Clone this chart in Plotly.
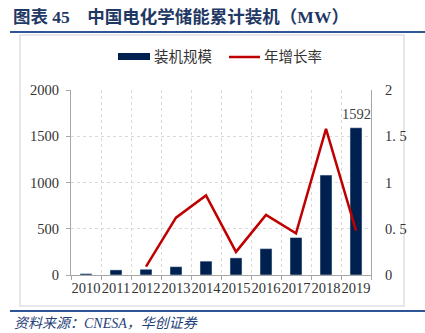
import plotly.graph_objects as go

years = ["2010", "2011", "2012", "2013", "2014", "2015", "2016", "2017", "2018", "2019"]
capacity = [15, 55, 62, 90, 150, 185, 285, 405, 1080, 1592]
growth = [None, None, 0.09, 0.62, 0.86, 0.25, 0.65, 0.45, 1.58, 0.48]
label_year = "2019"
label_value = 1592

W, H = 425, 333
L, R, T, B = 71, 371, 90, 275  # plot area in pixels

def px(x):
    return (x - L) / (R - L)

def py(y):
    return (B - y) / (B - T)

SERIF = "Liberation Serif, Noto Sans CJK SC"
NAVY = "#002050"
RED = "#C00000"
FS = 14.5

fig = go.Figure()
fig.add_trace(go.Bar(x=years, y=capacity, name="装机规模", marker_color=NAVY,
                     width=0.4, showlegend=False))
fig.add_trace(go.Scatter(x=years, y=growth, name="年增长率", mode="lines",
                         line=dict(color=RED, width=2.5), yaxis="y2", showlegend=False))

grid = "#d9d9d9"
fig.update_layout(
    width=W, height=H,
    margin=dict(l=L, r=W - R, t=T, b=H - B),
    paper_bgcolor="white", plot_bgcolor="white",
    font=dict(family=SERIF, size=12, color="#333333"),
    xaxis=dict(type="category", categoryarray=years, categoryorder="array",
               range=[-0.5, len(years) - 0.5], autorange=False,
               tickson="boundaries", showgrid=True, gridcolor=grid,
               griddash="dot", gridwidth=1, showline=True, linecolor="#a6a6a6",
               ticks="outside", ticklen=4, tickcolor="#a6a6a6", tickangle=0,
               tickfont=dict(family=SERIF, size=FS, color="#333333")),
    yaxis=dict(range=[0, 2000], tickvals=[0, 500, 1000, 1500, 2000], showgrid=True,
               gridcolor=grid, griddash="dot", showline=True, linecolor="#a6a6a6",
               ticks="outside", ticklen=4, tickcolor="#a6a6a6", zeroline=False,
               ticklabelstandoff=4,
               tickfont=dict(family=SERIF, size=FS, color="#333333")),
    yaxis2=dict(range=[0, 2], overlaying="y", side="right",
                tickvals=[0, 0.5, 1, 1.5, 2], ticktext=["0", "0. 5", "1", "1. 5", "2"],
                showgrid=False, showline=True, linecolor="#a6a6a6", zeroline=False,
                ticks="", ticklabelstandoff=10,
                tickfont=dict(family=SERIF, size=FS, color="#333333")),
)

shapes = []
shapes.append(dict(type="rect", xref="paper", yref="paper",
                   x0=px(20), x1=px(404), y0=py(306), y1=py(35),
                   line=dict(color="#e0e0e0", width=1.5), fillcolor="rgba(0,0,0,0)", layer="below"))
shapes.append(dict(type="line", xref="paper", yref="paper", x0=px(10), x1=px(425),
                   y0=py(32), y1=py(32), line=dict(color="#2E5597", width=2)))
shapes.append(dict(type="line", xref="paper", yref="paper", x0=px(10), x1=px(425),
                   y0=py(311), y1=py(311), line=dict(color="#2E5597", width=2)))
shapes.append(dict(type="rect", xref="paper", yref="paper", x0=px(118), x1=px(150),
                   y0=py(60), y1=py(53), fillcolor=NAVY, line=dict(width=0)))
shapes.append(dict(type="line", xref="paper", yref="paper", x0=px(229), x1=px(260),
                   y0=py(57), y1=py(57), line=dict(color=RED, width=2.5)))
fig.update_layout(shapes=shapes)

ann = []
ann.append(dict(text="<b>图表 45&nbsp;&nbsp;&nbsp;&nbsp;中国电化学储能累计装机（MW）</b>", xref="paper", yref="paper",
                x=px(11), y=py(17), xanchor="left", yanchor="middle", showarrow=False,
                font=dict(family=SERIF, size=17.5, color="#1F3864")))
ann.append(dict(text="装机规模", xref="paper", yref="paper", x=px(152), y=py(57),
                xanchor="left", yanchor="middle", showarrow=False,
                font=dict(family=SERIF, size=FS, color="#333333")))
ann.append(dict(text="年增长率", xref="paper", yref="paper", x=px(262), y=py(57),
                xanchor="left", yanchor="middle", showarrow=False,
                font=dict(family=SERIF, size=FS, color="#333333")))
ann.append(dict(text=str(label_value), x=years.index(label_year), y=label_value,
                xref="x", yref="y", yanchor="bottom", yshift=4, showarrow=False,
                font=dict(family=SERIF, size=FS, color="#404040")))
ann.append(dict(text="<i>资料来源：CNESA，华创证券</i>", xref="paper", yref="paper",
                x=px(12), y=py(323), xanchor="left", yanchor="middle", showarrow=False,
                font=dict(family=SERIF, size=14, color="#1F3F7A")))
fig.update_layout(annotations=ann)

fig.write_html("out.html")
